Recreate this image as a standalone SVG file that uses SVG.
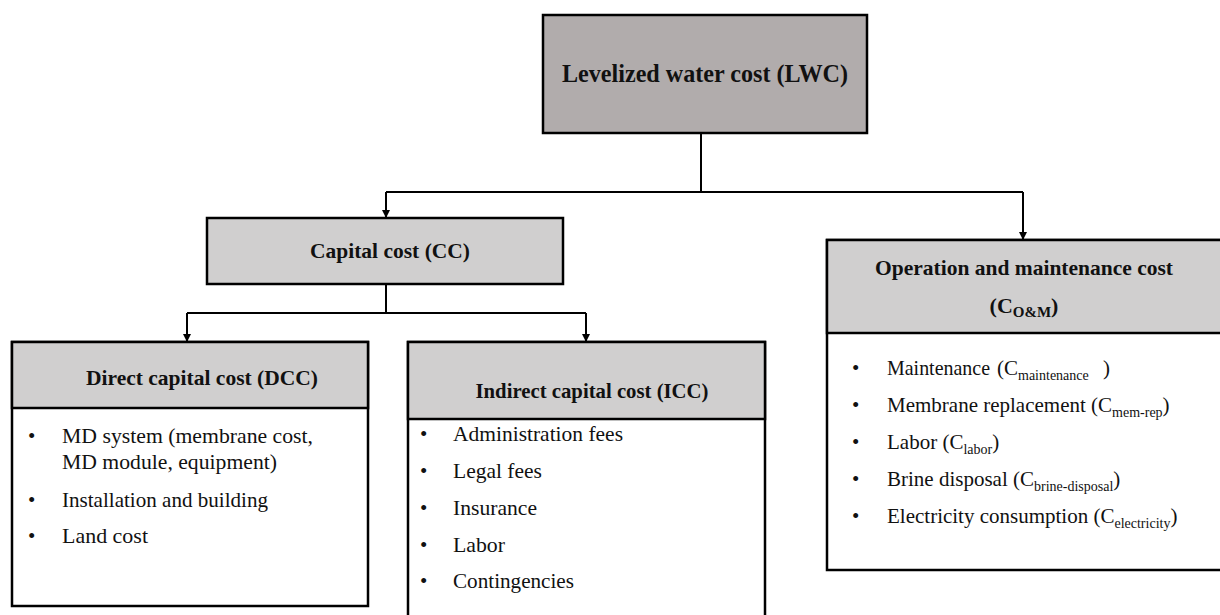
<svg xmlns="http://www.w3.org/2000/svg" width="1220" height="615" viewBox="0 0 1220 615">
<style>
.box{stroke:#000;stroke-width:2.5}
.dark{fill:#b1acac}
.light{fill:#d0cfcf}
.white{fill:#fff}
.h{font-family:"Liberation Serif","Times New Roman","DejaVu Serif",serif;font-weight:bold;fill:#111;text-anchor:middle}
.t{font-family:"Liberation Serif","Times New Roman","DejaVu Serif",serif;font-size:21px;fill:#111}
.con{fill:none;stroke:#000;stroke-width:2}
</style>
<defs>
<marker id="arr" viewBox="0 0 10 10" refX="10" refY="5" markerWidth="8" markerHeight="8" markerUnits="userSpaceOnUse" orient="auto">
<path d="M0,0 L10,5 L0,10 z" fill="#000"/>
</marker>
</defs>
<rect width="1220" height="615" fill="#fff"/>

<g id="connectors">
<path class="con" d="M701,133 V192"/>
<path class="con" d="M386,192 H1023"/>
<path class="con" d="M386,192 V218" marker-end="url(#arr)"/>
<path class="con" d="M1023,192 V240" marker-end="url(#arr)"/>
<path class="con" d="M386,284 V313"/>
<path class="con" d="M187,313 H586"/>
<path class="con" d="M187,313 V342" marker-end="url(#arr)"/>
<path class="con" d="M586,313 V342" marker-end="url(#arr)"/>
</g>

<g id="lwc">
<rect class="box dark" x="543" y="15" width="324" height="118"/>
<text class="h" x="705" y="82" font-size="25" textLength="286" lengthAdjust="spacingAndGlyphs">Levelized water cost (LWC)</text>
</g>

<g id="cc">
<rect class="box light" x="207" y="218" width="356" height="66"/>
<text class="h" x="390" y="258" font-size="22" textLength="160" lengthAdjust="spacingAndGlyphs">Capital cost (CC)</text>
</g>

<g id="dcc">
<rect class="box white" x="12" y="342" width="356" height="264"/>
<rect class="box light" x="12" y="342" width="356" height="66"/>
<text class="h" x="202" y="385" font-size="21" textLength="232" lengthAdjust="spacingAndGlyphs">Direct capital cost (DCC)</text>
<text class="t" x="28" y="443">•</text>
<text class="t" x="62" y="443" textLength="251" lengthAdjust="spacingAndGlyphs">MD system (membrane  cost,</text>
<text class="t" x="62" y="469" textLength="215" lengthAdjust="spacingAndGlyphs">MD module, equipment)</text>
<text class="t" x="28" y="507">•</text>
<text class="t" x="62" y="507" textLength="206" lengthAdjust="spacingAndGlyphs">Installation  and building</text>
<text class="t" x="28" y="543">•</text>
<text class="t" x="62" y="543" textLength="86" lengthAdjust="spacingAndGlyphs">Land cost</text>
</g>

<g id="icc">
<rect class="box white" x="408" y="342" width="357" height="290"/>
<rect class="box light" x="408" y="342" width="357" height="77"/>
<text class="h" x="592" y="398" font-size="21" textLength="233" lengthAdjust="spacingAndGlyphs">Indirect capital cost (ICC)</text>
<text class="t" x="420" y="441">•</text>
<text class="t" x="453" y="441" textLength="170" lengthAdjust="spacingAndGlyphs">Administration  fees</text>
<text class="t" x="420" y="478">•</text>
<text class="t" x="453" y="478" textLength="89" lengthAdjust="spacingAndGlyphs">Legal  fees</text>
<text class="t" x="420" y="515">•</text>
<text class="t" x="453" y="515" textLength="84" lengthAdjust="spacingAndGlyphs">Insurance</text>
<text class="t" x="420" y="552">•</text>
<text class="t" x="453" y="552" textLength="52" lengthAdjust="spacingAndGlyphs">Labor</text>
<text class="t" x="420" y="588">•</text>
<text class="t" x="453" y="588" textLength="121" lengthAdjust="spacingAndGlyphs">Contingencies</text>
</g>

<g id="om">
<rect class="box white" x="827" y="240" width="420" height="330"/>
<rect class="box light" x="827" y="240" width="420" height="93"/>
<text class="h" x="1024" y="275" font-size="22" textLength="298" lengthAdjust="spacingAndGlyphs">Operation and maintenance cost</text>
<text class="h" x="1024" y="313" font-size="22">(C<tspan font-size="15" dy="4">O&amp;M</tspan><tspan dy="-4">)</tspan></text>
<text class="t" x="852" y="375">•</text>
<text class="t" x="887" y="375"><tspan textLength="103" lengthAdjust="spacingAndGlyphs">Maintenance</tspan><tspan x="997">(C</tspan><tspan font-size="14" dy="5">maintenance</tspan><tspan dy="-5" x="1103">)</tspan></text>
<text class="t" x="852" y="412">•</text>
<text class="t" x="887" y="412">Membrane  replacement  (C<tspan font-size="14" dy="5">mem-rep</tspan><tspan dy="-5">)</tspan></text>
<text class="t" x="852" y="449">•</text>
<text class="t" x="887" y="449">Labor (C<tspan font-size="14" dy="5">labor</tspan><tspan dy="-5">)</tspan></text>
<text class="t" x="852" y="486">•</text>
<text class="t" x="887" y="486">Brine  disposal (C<tspan font-size="14" dy="5">brine-disposal</tspan><tspan dy="-5">)</tspan></text>
<text class="t" x="852" y="523">•</text>
<text class="t" x="887" y="523">Electricity  consumption (C<tspan font-size="14" dy="5">electricity</tspan><tspan dy="-5">)</tspan></text>
</g>
</svg>
